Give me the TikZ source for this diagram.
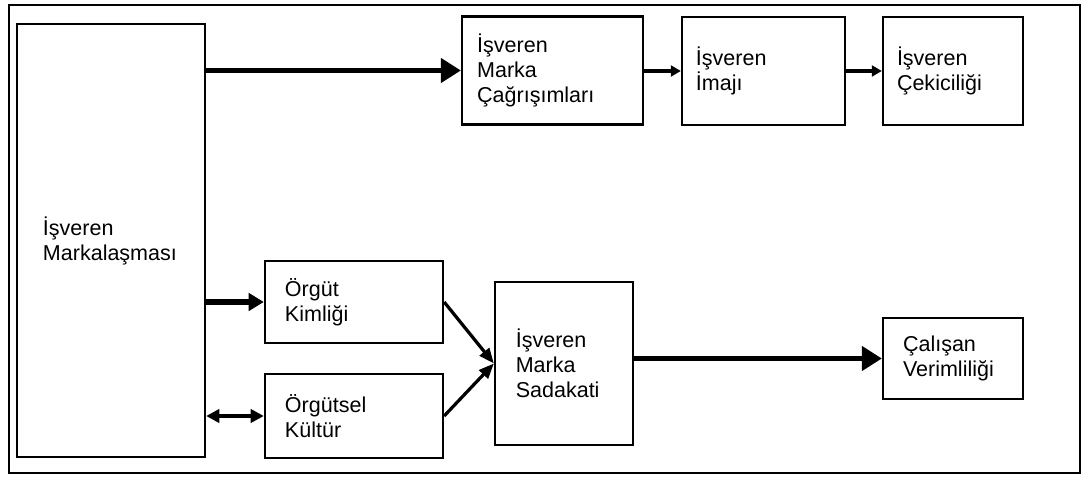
\documentclass[tikz,border=0pt]{standalone}
\usepackage{fontspec}
\setmainfont{Liberation Sans}
\usetikzlibrary{arrows.meta}
\tikzset{
  box/.style={draw, line width=1.6pt, align=left, inner xsep=0.5cm, inner ysep=2pt, font=\fontsize{15.3}{17.8}\selectfont},
  kbrand/.style={box, inner xsep=0.65cm, text width=3.40cm, minimum height=10.825cm},
  ktop/.style={box, inner xsep=0.35cm, minimum height=2.7cm},
  flow/.style={-{Triangle[length=0.25cm, width=0.27cm]}, line width=3.2pt},
  bigflow/.style={-{Triangle[length=0.5cm, width=0.6cm]}, line width=3.2pt},
  thickflow/.style={-{Triangle[length=0.38cm, width=0.43cm]}, line width=4pt},
  twoflow/.style={{Triangle[length=0.33cm, width=0.33cm]}-{Triangle[length=0.33cm, width=0.33cm]}, line width=3pt},
  slantflow/.style={-{Triangle[length=0.38cm, width=0.3cm]}, line width=2.3pt},
}

\begin{document}
\begin{tikzpicture}[x=0.025cm, y=-0.025cm]
    \useasboundingbox (0,0) rectangle (1082,477);
    \draw[line width=1.6pt] (9,5) rectangle (1080,473);
    \node[kbrand] (brand) at (111,240.5) {İşveren\\Markalaşması};
    \node[ktop, inner xsep=0.38cm, text width=3.765cm] (assoc) at (552.5,70.5) {İşveren\\Marka\\Çağrışımları};
    \node[ktop, text width=3.375cm] (image) at (763.5,71) {İşveren\\İmajı};
    \node[ktop, text width=2.8cm] (attract) at (953,71) {İşveren\\Çekiciliği};
    \node[box, text width=3.45cm, minimum height=2.05cm] (identity) at (354,302) {Örgüt\\Kimliği};
    \node[box, text width=3.45cm, minimum height=2.1cm] (culture) at (354,416) {Örgütsel\\Kültür};
    \node[box, inner xsep=0.52cm, text width=2.41cm, minimum height=4.075cm] (loyalty) at (564,363.5) {İşveren\\Marka\\Sadakati};
    \node[box, text width=2.5cm, minimum height=2.025cm] (productivity) at (953,358.5) {Çalışan\\Verimliliği};
    \draw[bigflow] (brand.east |- assoc.west) -- (assoc.west);
    \draw[flow] (assoc.east |- image.west) -- (image.west);
    \draw[flow] (image.east) -- (attract.west);
    \draw[thickflow] (brand.east |- identity.west) -- (identity.west);
    \draw[twoflow] (brand.east |- culture.west) -- (culture.west);
    \draw[slantflow] (identity.east) -- (loyalty.west);
    \draw[slantflow] (culture.east) -- (loyalty.west);
    \draw[bigflow] (loyalty.east |- productivity.west) -- (productivity.west);
  \end{tikzpicture}
\end{document}
